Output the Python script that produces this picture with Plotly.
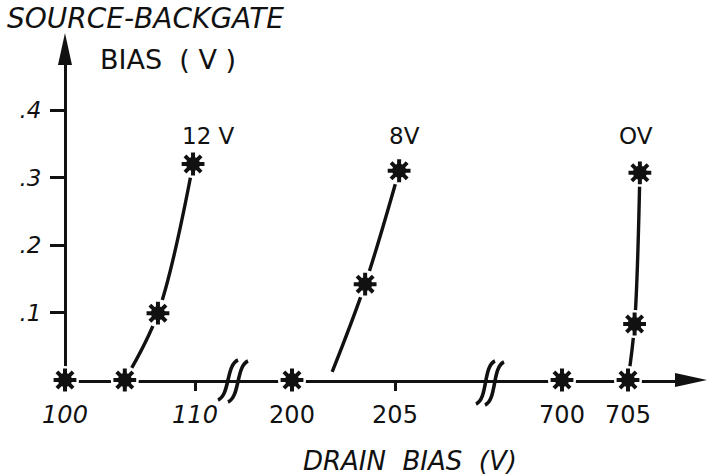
import plotly.graph_objects as go

# ---- data ----
# stars (measured points), one list per backgate bias
drain_12v = [100, 104.6, 107.15, 109.85]
vbs_12v = [0, 0, 0.099, 0.32]
drain_8v = [200, 203.55, 205.2]
vbs_8v = [0, 0.142, 0.31]
drain_0v = [700, 705, 705.5, 705.9]
vbs_0v = [0, 0, 0.083, 0.307]

# drawn curves through the points
curve_12v_x = [104.6, 107.15, 109.85]
curve_12v_y = [0, 0.099, 0.32]
curve_8v_x = [201.95, 203.55, 205.2]
curve_8v_y = [0.012, 0.142, 0.31]
curve_0v_x = [705, 705.5, 705.9]
curve_0v_y = [0, 0.083, 0.307]

series_labels = ["12 V", "8V", "OV"]
label_x = [111.0, 205.45, 705.6]
label_y = [0.362, 0.362, 0.362]

x1_ticks = [100, 110]
x2_ticks = [200, 205]
x3_ticks = [700, 705]
y_ticks = [0.1, 0.2, 0.3, 0.4]
y_ticktext = [".1", ".2", ".3", ".4"]

W, H = 708, 476
FONT = "DejaVu Sans"
INK = "#111111"


def px(x):
    return x / W


def py(y):
    return 1 - y / H


fig = go.Figure()

axes = ["x", "x2", "x3"]
curves = [(curve_12v_x, curve_12v_y), (curve_8v_x, curve_8v_y), (curve_0v_x, curve_0v_y)]
stars = [(drain_12v, vbs_12v), (drain_8v, vbs_8v), (drain_0v, vbs_0v)]

for ax, (cx, cy) in zip(axes, curves):
    fig.add_trace(go.Scatter(x=cx, y=cy, mode="lines", xaxis=ax, yaxis="y",
                             line=dict(color=INK, width=3.4, shape="spline"),
                             cliponaxis=False, hoverinfo="skip"))

for ax, (sx, sy) in zip(axes, stars):
    fig.add_trace(go.Scatter(x=sx, y=sy, mode="markers", xaxis=ax, yaxis="y",
                             marker=dict(symbol="circle", size=28, color="white",
                                         line=dict(width=0)),
                             cliponaxis=False, hoverinfo="skip"))
    fig.add_trace(go.Scatter(x=sx, y=sy, mode="markers", xaxis=ax, yaxis="y",
                             marker=dict(symbol="asterisk-open", size=19, color=INK,
                                         line=dict(color=INK, width=4)),
                             cliponaxis=False, hoverinfo="skip"))
    fig.add_trace(go.Scatter(x=sx, y=sy, mode="markers", xaxis=ax, yaxis="y",
                             marker=dict(symbol="circle", size=14, color=INK,
                                         line=dict(width=0)),
                             cliponaxis=False, hoverinfo="skip"))

common_x = dict(anchor="y", showline=True, linecolor=INK, linewidth=2.8,
                ticks="outside", ticklen=8, tickwidth=2.8, tickcolor=INK,
                showgrid=False, zeroline=False, layer="below traces",
                automargin=False,
                tickfont=dict(family=FONT, size=24, color=INK),
                ticklabelstandoff=3, fixedrange=True)

fig.update_layout(
    template="none",
    width=W, height=H, autosize=False,
    margin=dict(l=0, r=0, t=0, b=0, pad=0),
    paper_bgcolor="white", plot_bgcolor="rgba(0,0,0,0)",
    showlegend=False, hovermode=False,
    xaxis=dict(domain=[px(60), px(233)], range=[100 - 5 / 13.0, 100 + 168 / 13.0],
               tickvals=x1_ticks, ticktext=["<i>%d</i>" % v for v in x1_ticks], **common_x),
    xaxis2=dict(domain=[px(233), px(493)], range=[200 - 59 / 20.6, 200 + 201 / 20.6],
                tickvals=x2_ticks, ticktext=[str(v) for v in x2_ticks], **common_x),
    xaxis3=dict(domain=[px(493), px(690)], range=[700 - 69 / 13.2, 700 + 128 / 13.2],
                tickvals=x3_ticks, ticktext=[str(v) for v in x3_ticks], **common_x),
    yaxis=dict(domain=[py(380), py(50)], range=[0, 330 / 675.0],
               anchor="free", position=px(65), automargin=False,
               showline=True, linecolor=INK, linewidth=2.8,
               ticks="outside", ticklen=14, tickwidth=2.8, tickcolor=INK,
               tickvals=y_ticks, ticktext=["<i>%s</i>" % t for t in y_ticktext],
               tickfont=dict(family=FONT, size=23, color=INK),
               ticklabelstandoff=4,
               showgrid=False, zeroline=False, layer="below traces", fixedrange=True),
)

# series labels
for ax, txt, lx, ly in zip(axes, series_labels, label_x, label_y):
    fig.add_annotation(x=lx, y=ly, xref=ax, yref="y", text=txt, showarrow=False,
                       xanchor="center", yanchor="middle",
                       font=dict(family=FONT, size=23, color=INK))

# axis titles
fig.add_annotation(x=px(145), y=py(19), xref="paper", yref="paper",
                   text="<i>SOURCE-BACKGATE</i>", showarrow=False,
                   xanchor="center", yanchor="middle",
                   font=dict(family=FONT, size=28, color=INK))
fig.add_annotation(x=px(168), y=py(59), xref="paper", yref="paper",
                   text="BIAS\u00a0\u00a0(\u00a0V\u00a0)", showarrow=False,
                   xanchor="center", yanchor="middle",
                   font=dict(family=FONT, size=27, color=INK))
fig.add_annotation(x=px(410), y=py(461), xref="paper", yref="paper",
                   text="<i>DRAIN\u00a0\u00a0BIAS\u00a0\u00a0(V)</i>", showarrow=False,
                   xanchor="center", yanchor="middle",
                   font=dict(family=FONT, size=26, color=INK))


def P(x, y):
    return "%.5f,%.5f" % (px(x), py(y))


# arrowheads
fig.add_shape(type="path", xref="paper", yref="paper",
              path="M %s L %s L %s Z" % (P(707, 380), P(675, 373), P(675, 387)),
              fillcolor=INK, line=dict(width=0))
fig.add_shape(type="path", xref="paper", yref="paper",
              path="M %s L %s L %s Z" % (P(65, 33), P(58, 65), P(72, 65)),
              fillcolor=INK, line=dict(width=0))

# axis break marks "//"
for (x0, y0, x1, y1) in [(218, 400, 238, 360), (228, 402, 248, 361),
                         (476, 404, 495, 361), (485, 405, 504, 362)]:
    path = "M %s C %s %s %s" % (P(x0, y0), P(x0 + 12, y0 - 5), P(x1 - 12, y1 + 5), P(x1, y1))
    fig.add_shape(type="path", xref="paper", yref="paper", path=path,
                  line=dict(color=INK, width=3.6))

fig.write_html("out.html", config={"displayModeBar": False},
               post_script="document.body.style.margin='0';")
